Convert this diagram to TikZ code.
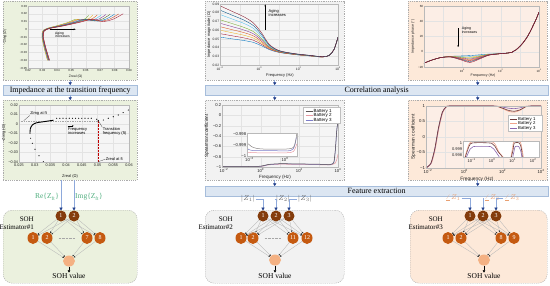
\documentclass[tikz,border=0pt]{standalone}
\usepackage{fontspec}
\setmainfont{Liberation Serif}
\newfontfamily\plotsans{Liberation Sans}
\usetikzlibrary{arrows.meta,shapes.geometric,positioning}

\definecolor{pgreen}{HTML}{EBF1DE}
\definecolor{pgray}{HTML}{F2F2F2}
\definecolor{ppeach}{HTML}{FDE9D9}
\definecolor{bgone}{HTML}{F5F5F5}
\definecolor{bgthree}{HTML}{FCEEE6}
\definecolor{banfill}{HTML}{DCE6F2}
\definecolor{banline}{HTML}{A6BDDB}
\definecolor{feedline}{HTML}{8EA9DB}
\definecolor{tipblue}{HTML}{1F3C88}
\definecolor{nbrown}{HTML}{843C0C}
\definecolor{norange}{HTML}{C55A11}
\definecolor{npeach}{HTML}{F4B183}
\definecolor{lblgreen}{HTML}{4FAE7E}
\definecolor{lblorange}{HTML}{E9A072}
\definecolor{mblue}{HTML}{0072BD}
\definecolor{morange}{HTML}{D95319}
\definecolor{myellow}{HTML}{EDB120}
\definecolor{mpurple}{HTML}{7E2F8E}
\definecolor{mgreen}{HTML}{77AC30}
\definecolor{mcyan}{HTML}{4DBEEE}
\definecolor{mred}{HTML}{A2142F}
\definecolor{batone}{HTML}{5A5252}
\definecolor{battwo}{HTML}{E89AA2}
\definecolor{batthree}{HTML}{7D7DC8}
\definecolor{phone}{HTML}{6E3A3A}
\definecolor{phtwo}{HTML}{F0A48C}
\definecolor{phthree}{HTML}{8A66AE}

\newcommand{\axsz}{3}
\newcommand{\axtsz}{3.4}
\newcommand{\axfont}{\plotsans\fontsize{\axsz}{\axsz}\selectfont}
\newcommand{\axtfont}{\plotsans\fontsize{\axtsz}{\axtsz}\selectfont}
\newcommand{\dec}[1]{10\textsuperscript{#1}}

\tikzset{
  panel/.style={draw=gray!65, dash pattern=on 1.2pt off 1pt, line width=0.4pt,
    fill=#1, inner sep=0pt, anchor=north west},
  estbox/.style={panel=#1, rounded corners=9pt},
  banner/.style={draw=banline, fill=banfill, line width=0.4pt, inner sep=0pt,
    anchor=north west, minimum height=10pt, font=\fontsize{8}{9}\selectfont},
  feed/.style={draw=feedline, line width=0.5pt,
    -{Triangle[width=3.2pt,length=2.6pt,color=tipblue]}},
  innode/.style={circle, fill=nbrown, text=white, minimum size=11pt,
    inner sep=0pt, font=\fontsize{6}{6}\selectfont},
  hidnode/.style={ellipse, fill=norange, text=white, minimum width=11pt,
    minimum height=12pt, inner sep=0pt, font=\fontsize{6}{6}\selectfont},
  outnode/.style={ellipse, fill=npeach, minimum width=12pt, minimum height=11pt,
    inner sep=0pt},
  wire/.style={draw=gray!55, line width=0.35pt,
    -{Triangle[width=1.6pt,length=1.3pt,color=gray!30!black]}},
  inlbl/.style={font=\fontsize{7.5}{8}\selectfont, inner sep=1pt},
  estlbl/.style={font=\fontsize{7}{8}\selectfont, align=right, anchor=east,
    inner sep=0pt},
  sohval/.style={font=\fontsize{7.5}{8}\selectfont, inner sep=0.5pt},
  gridline/.style={draw=gray!22, line width=0.2pt},
  axframe/.style={draw=gray!55, line width=0.3pt},
  tk/.style={font=\axfont, inner sep=0.7pt, text=gray!25!black},
  xtk/.style={tk, anchor=north, yshift=-0.8pt},
  axt/.style={font=\axtfont, inner sep=0pt, text=gray!25!black},
  note/.style={font=\axtfont, inner sep=0.3pt, align=left, text=black},
  curve/.style={line width=0.35pt},
  leader/.style={draw=gray!45!black, line width=0.25pt},
}

\begin{document}
\begin{tikzpicture}[x=1pt, y=-1pt]
\useasboundingbox (0,0) rectangle (550,285);

% panels and banners
\node[panel=pgreen, minimum width=134pt, minimum height=79pt] (nyq) at (3,1) {};
\node[panel=pgreen, minimum width=134pt, minimum height=80pt] (nyqft) at (3,100) {};
\node[panel=pgray, minimum width=139pt, minimum height=79pt] (mag) at (205,1) {};
\node[panel=pgray, minimum width=139pt, minimum height=80pt] (rhomag) at (205,100) {};
\node[panel=ppeach, minimum width=139pt, minimum height=79pt] (phs) at (408,1) {};
\node[panel=ppeach, minimum width=139pt, minimum height=80pt] (rhophs) at (408,100) {};
\node[estbox=pgreen, minimum width=134pt, minimum height=73pt] (est1) at (3,210) {};
\node[estbox=pgray, minimum width=139pt, minimum height=73pt] (est2) at (205,210) {};
\node[estbox=ppeach, minimum width=137pt, minimum height=73pt] (est3) at (410,210) {};

\node[banner, minimum width=134pt] (banft) at (3,85) {Impedance at the transition frequency};
\node[banner, minimum width=343pt] (bancor) at (205,85) {Correlation analysis};
\node[banner, minimum width=343pt] (banfe) at (205,186) {Feature extraction};

\draw[feed] (nyq.south) -- (banft.north);
\draw[feed] (banft.south) -- (nyqft.north);
\draw[feed] (mag.south) -- (mag.south |- bancor.north);
\draw[feed] (mag.south |- bancor.south) -- (rhomag.north);
\draw[feed] (phs.south) -- (phs.south |- bancor.north);
\draw[feed] (phs.south |- bancor.south) -- (rhophs.north);
\draw[feed] (rhomag.south) -- (rhomag.south |- banfe.north);
\draw[feed] (rhophs.south) -- (rhophs.south |- banfe.north);

% Nyquist plot, all cycles
\begin{scope}[shift={(28,68)}, x=14.43pt, y=7.75pt]
  \renewcommand{\axsz}{2.9}\renewcommand{\axtsz}{3.4}
  \fill[bgone] (0,0) rectangle (7,8);
  \foreach \i in {1,...,6} \draw[gridline] (\i,0) -- (\i,8);
  \foreach \j in {1,...,7} \draw[gridline] (0,\j) -- (7,\j);
  \foreach \d/\c in {0/mgreen,0.12/myellow,0.25/morange,0.37/mcyan,0.5/mpurple,
      0.62/mgreen!60!black,0.75/mblue,0.87/morange!70!mred,1/mred}
    \draw[curve,\c] plot[smooth] coordinates {({1.35+0.15*\d},1.0) ({1.12+0.12*\d},2.6)
      ({0.97+0.1*\d},4.0) ({1.02+0.1*\d},4.75) ({1.3+0.2*\d},5.1) ({2.0+0.5*\d},5.45)
      ({2.8+0.8*\d},5.9) ({3.3+1.2*\d},6.3) ({3.7+1.5*\d},{6.2-0.2*\d})
      ({4.0+1.9*\d},{6.4-0.1*\d}) ({4.2+2.4*\d},{6.8+0.2*\d})};
  \draw[axframe] (0,0) rectangle (7,8);
  \foreach \i/\l in {0/0.02,1/0.03,2/0.04,3/0.05,4/0.06,5/0.07,6/0.08,7/0.09}
    \node[xtk] at (\i,0) {\l};
  \foreach \j/\l in {0/−0.05,1/−0.04,2/−0.03,3/−0.02,4/−0.01,5/0,6/0.01,7/0.02,8/0.03}
    \node[tk, left] at (0,\j) {\l};
  \node[axt] at (3.3,-1.05) {Zreal (Ω)};
  \node[axt, rotate=90] at (-1.6,4) {−Zimg (Ω)};
  \draw[-{Stealth[length=2pt,width=1.6pt]}, line width=0.3pt] (1.5,5.0) -- (3.3,5.0);
  \node[note, anchor=north west] at (1.85,4.75) {Aging\\increases};
\end{scope}

% Nyquist plot with transition frequency
\begin{scope}[shift={(19,162)}, x=15.71pt, y=9.5pt]
  \renewcommand{\axsz}{3.8}\renewcommand{\axtsz}{4}
  \fill[bgone] (0,0) rectangle (7,6);
  \foreach \i in {1,...,6} \draw[gridline] (\i,0) -- (\i,6);
  \foreach \j in {1,...,5} \draw[gridline] (0,\j) -- (7,\j);
  \draw[gray!70, dash pattern=on 1pt off 0.7pt, line width=0.3pt] (0,4.35) -- (5.05,4.35);
  \draw[red!75!black, densely dotted, line width=0.45pt] (5.05,4.35) -- (5.05,0);
  \foreach \p in {(1.55,0.03),(1.27,0.66),(1.02,1.34),(0.85,1.97),(0.74,2.5),
      (4.95,4.5),(5.37,4.42),(5.68,4.6),(6.0,4.77),(6.32,4.95),(6.63,5.2),(6.96,5.47)}
    \fill \p circle (0.6pt);
  \draw[line width=0.9pt] plot[smooth] coordinates {(0.7,2.95) (0.72,3.5) (0.85,3.9)
    (1.1,4.12) (1.6,4.25) (2.2,4.4)};
  \foreach \u in {2.4,2.6,...,4.8} \fill (\u,4.6) circle (0.6pt);
  \fill (5.05,4.35) circle (0.7pt);
  \draw[axframe] (0,0) rectangle (7,6);
  \foreach \i/\l in {0/0.025,1/0.03,2/0.035,3/0.04,4/0.045,5/0.05,6/0.055,7/0.06}
    \node[xtk] at (\i,0) {\l};
  \foreach \j/\l in {0/−0.04,1/−0.03,2/−0.02,3/−0.01,4/0,5/0.01,6/0.02}
    \node[tk, left] at (0,\j) {\l};
  \node[axt] at (3.25,-1.5) {Zreal (Ω)};
  \node[axt, rotate=90] at (-0.97,3) {−Zimg (Ω)};
  \node[note] (zi) at (1.25,5.15) {Zimg at ft};
  \draw[leader] (zi.south west) -- (0.3,4.35);
  \node[note, anchor=west] (tf) at (5.3,3.2) {Transition\\frequency (ft)};
  \draw[leader] (5.05,4.35) -- (tf.north west);
  \node[note, anchor=west] (fi) at (3.1,3.2) {Frequency\\increases};
  \draw[-{Stealth[length=1.6pt,width=1.4pt]}, line width=0.25pt]
    ([yshift=1.8pt]fi.north west) -- ++(6pt,0);
  \node[note, anchor=west] (zr) at (5.5,0.3) {Zreal at ft};
  \draw[leader] (zr.west) -- (5.05,0.03);
\end{scope}

% impedance magnitude
\begin{scope}[shift={(220,65)}, x=19.67pt, y=8.71pt]
  \renewcommand{\axsz}{3.3}\renewcommand{\axtsz}{4}
  \fill[bgone] (0,0) rectangle (6,7);
  \foreach \i in {1,...,5} \draw[gridline] (\i,0) -- (\i,7);
  \foreach \j in {1,...,6} \draw[gridline] (0,\j) -- (6,\j);
  \foreach \a/\c in {1.6/mblue,2.0/mred,2.4/myellow,2.8/morange,3.2/mpurple,
      3.6/mgreen,4.2/mcyan,4.7/mblue!70!black,5.2/mred!80!black}
    \draw[curve,\c] plot[smooth] coordinates {(0,{1.6+\a}) (0.6,{1.6+0.88*\a})
      (1.2,{1.6+0.76*\a}) (1.7,{1.6+0.62*\a}) (2.1,{1.55+0.42*\a}) (2.5,{1.5+0.17*\a})
      (3.0,{1.35+0.06*\a}) (3.8,{1.15+0.03*\a}) (4.6,{1.0+0.02*\a}) (5.2,{0.9+0.01*\a})
      (5.55,1.1) (5.8,1.8) (6,3.2)};
  \draw[axframe] (0,0) rectangle (6,7);
  \foreach \i/\l in {0/−2,2/0,4/2,6/4} \node[xtk] at (\i,0) {\dec{\l}};
  \foreach \j/\l in {0/0.02,1/0.03,2/0.04,3/0.05,4/0.06,5/0.07,6/0.08,7/0.09}
    \node[tk, left] at (0,\j) {\l};
  \node[axt] at (3.05,-1.25) {Frequency (Hz)};
  \node[axt, rotate=90] at (-0.55,3.5) {Impedance magnitude (Ω)};
  \draw[-{Stealth[length=2pt,width=1.6pt]}, line width=0.3pt] (2.3,4.0) -- (2.3,6.95);
  \node[note, anchor=north west] at (2.45,6.45) {Aging\\increases};
\end{scope}

% impedance phase
\begin{scope}[shift={(424,67)}, x=19.17pt, y=7.625pt]
  \renewcommand{\axsz}{3}\renewcommand{\axtsz}{3.6}
  \fill[bgthree] (0,0) rectangle (6,8);
  \foreach \i in {1,...,5} \draw[gridline] (\i,0) -- (\i,8);
  \foreach \j in {2,4,6} \draw[gridline] (0,\j) -- (6,\j);
  \foreach \d/\c in {0/mblue,1.2/mcyan,2.5/myellow,3.7/mgreen,5/mpurple,
      6.2/morange,7.5/mred!60!morange,8.7/mblue!60!black,10/mred}
    \draw[curve,\c] plot[smooth] coordinates {(0,0.5) (0.4,0.9) (0.9,1.25)
      (1.4,{1.4-0.01*\d}) (1.9,{1.45-0.05*\d}) (2.4,{1.5-0.09*\d})
      (2.9,{1.6-0.055*\d}) (3.4,{1.7-0.015*\d}) (4,1.75) (4.6,1.95) (5.0,2.7)
      (5.4,4.0) (5.8,6.0) (6,7.2)};
  \draw[axframe] (0,0) rectangle (6,8);
  \foreach \i/\l in {2/0,4/2,6/4} \node[xtk] at (\i,0) {\dec{\l}};
  \foreach \j/\l in {0/−20,2/0,4/20,6/40,8/60} \node[tk, left] at (0,\j) {\l};
  \node[axt] at (3.08,-1.15) {Frequency (Hz)};
  \node[axt, rotate=90] at (-0.58,4) {Impedance phase (°)};
  \draw[-{Stealth[length=2pt,width=1.6pt]}, line width=0.3pt] (1.78,5.1) -- (1.78,2.6);
  \node[note, anchor=north west] at (1.95,5.3) {Aging\\increases};
\end{scope}

% Spearman coefficient, magnitude
\begin{scope}[shift={(222,167)}, x=19.33pt, y=10.33pt]
  \renewcommand{\axsz}{4.2}\renewcommand{\axtsz}{4.6}
  \fill[bgone] (0,0) rectangle (6,6);
  \foreach \i in {1,...,5} \draw[gridline] (\i,0) -- (\i,6);
  \foreach \j in {1,...,5} \draw[gridline] (0,\j) -- (6,\j);
  \draw[curve, battwo, line width=0.5pt] plot[smooth, tension=0.3] coordinates {(0,0.0)
    (1,0.01) (2,0.04) (2.4,0.2) (3,0.27) (4,0.25) (5,0.22) (5.6,0.2) (5.85,0.35)
    (5.95,0.8) (6,1.25)};
  \draw[curve, batthree, line width=0.5pt] plot[smooth, tension=0.3] coordinates {(0,0.03)
    (1,0.03) (2,0.06) (2.4,0.22) (3,0.3) (4,0.28) (5,0.25) (5.6,0.22) (5.8,0.5)
    (5.88,2.0) (5.95,3.8) (6,4.3)};
  \draw[curve, batone, line width=0.5pt] plot[smooth, tension=0.3] coordinates {(0,0.05)
    (1,0.04) (2,0.08) (2.4,0.25) (3,0.32) (4,0.3) (5,0.27) (5.6,0.25) (5.78,0.4)
    (5.86,1.6) (5.93,3.4) (6,4.5)};
  \draw[axframe] (0,0) rectangle (6,6);
  \foreach \i/\l in {0/−2,2/0,4/2,6/4} \node[xtk, xshift={\i==0 ? 2pt : 0pt}] at (\i,0) {\dec{\l}};
  \foreach \j/\l in {0/−1,1/−0.8,2/−0.6,3/−0.4,4/−0.2,5/0,6/0.2}
    \node[tk, left] at (0,\j) {\l};
  \node[axt] at (2.74,-1.0) {Frequency (Hz)};
  \node[axt, rotate=90] at (-0.78,3) {Spearman coefficient};
\end{scope}
\begin{scope}[shift={(247,156)}, x=19pt, y=11pt]
  \renewcommand{\axsz}{4.2}
  \fill[white] (0,0) rectangle (2.63,2.09);
  \begin{scope}
    \clip (0,0) rectangle (2.63,2.09);
    \draw[curve, battwo, line width=0.5pt] plot[smooth] coordinates {(0,0.35) (0.4,0.3)
      (1.5,0.28) (2.3,0.32) (2.5,0.55) (2.62,1.1)};
    \draw[curve, batthree, line width=0.5pt] plot[smooth] coordinates {(0,0.7) (0.3,0.5)
      (1.5,0.48) (2.3,0.5) (2.5,0.9) (2.6,1.7)};
    \draw[curve, batone!70, line width=0.5pt] plot[smooth] coordinates {(0,1.2) (0.3,0.8)
      (0.7,0.65) (1.5,0.62) (2.2,0.65) (2.45,0.8) (2.55,1.3) (2.62,2.0)};
  \end{scope}
  \draw[axframe] (0,0) rectangle (2.63,2.09);
  \foreach \j/\l in {0/−1,1/−0.999,2/−0.998} \node[tk, left] at (0,\j) {\l};
  \foreach \i/\l in {0/−2,2/0} \node[xtk, xshift={\i==0 ? 2.5pt : 0pt}] at (\i,0) {\dec{\l}};
\end{scope}
\node[draw=gray!50, fill=white, line width=0.3pt, minimum width=37pt, minimum height=16pt,
  anchor=north west, inner sep=0pt] (leg5) at (303,107) {};
\foreach \k/\c in {1/batone,2/battwo,3/batthree} {
  \draw[\c, line width=0.7pt] (305.5,{106.5+4.5*\k}) -- (312.5,{106.5+4.5*\k});
  \node[font=\plotsans\fontsize{4.5}{4.5}\selectfont, inner sep=0pt, anchor=west]
    at (313.5,{106.5+4.5*\k}) {Battery \k};
}

% Spearman coefficient, phase
\begin{scope}[shift={(426,168)}, x=19.17pt, y=15.5pt]
  \renewcommand{\axsz}{4.3}\renewcommand{\axtsz}{4.8}
  \fill[bgthree] (0,0) rectangle (6,4);
  \foreach \i in {1,...,5} \draw[gridline] (\i,0) -- (\i,4);
  \foreach \j in {1,...,3} \draw[gridline] (0,\j) -- (6,\j);
  \draw[curve, phtwo, line width=0.6pt] plot[smooth, tension=0.4] coordinates {(0,0)
    (0.28,0.3) (0.48,1.2) (0.68,2.6) (0.88,3.6) (1.08,3.95) (1.3,4.0) (3.5,4.0)
    (3.9,3.88) (4.3,3.66) (4.6,3.6) (4.9,3.72) (5.2,3.95) (5.5,4.0) (6,4.0)};
  \draw[curve, phthree, line width=0.6pt] plot[smooth, tension=0.4] coordinates {(0,0)
    (0.26,0.3) (0.46,1.2) (0.66,2.6) (0.86,3.6) (1.06,3.95) (1.3,4.0) (3.5,4.0)
    (3.9,3.95) (4.3,3.86) (4.6,3.83) (4.9,3.88) (5.2,3.98) (5.5,4.0) (6,4.0)};
  \draw[curve, phone, line width=0.6pt] plot[smooth, tension=0.4] coordinates {(0,0)
    (0.25,0.3) (0.45,1.2) (0.65,2.6) (0.85,3.6) (1.05,3.95) (1.3,4.0) (3.5,4.0)
    (3.9,3.9) (4.3,3.72) (4.6,3.66) (4.9,3.75) (5.2,3.95) (5.5,4.0) (6,4.0)};
  \draw[axframe] (0,0) rectangle (6,4);
  \foreach \i/\l in {0/−2,2/0,4/2,6/4} \node[xtk, xshift={\i==0 ? 2pt : 0pt}] at (\i,0) {\dec{\l}};
  \foreach \j/\l in {0/−1,1/−0.5,2/0,3/0.5,4/1} \node[tk, left] at (0,\j) {\l};
  \node[axt] at (2.66,-0.7) {Frequency (Hz)};
  \node[axt, rotate=90] at (-0.66,2) {Spearman coefficient};
\end{scope}
\begin{scope}[shift={(463,155)}, x=20.5pt, y=6pt]
  \renewcommand{\axsz}{4}
  \fill[white] (0,-0.33) rectangle (3.7,2.33);
  \begin{scope}
    \clip (0,-0.33) rectangle (3.7,2.33);
    \draw[curve, phtwo, line width=0.6pt] plot[smooth] coordinates {(0.08,-0.5) (0.28,1.7)
      (0.45,2.2) (1.0,2.25) (1.45,2.15) (1.6,1.6) (1.75,0.5) (2.0,-0.5)};
    \draw[curve, phtwo, line width=0.6pt] plot[smooth] coordinates {(2.33,-0.5) (2.42,1.2)
      (2.48,2.2) (2.78,2.2) (2.88,1.0) (2.95,-0.5)};
    \draw[curve, phone, line width=0.6pt] plot[smooth] coordinates {(0.1,-0.5) (0.3,1.5)
      (0.45,2.0) (1.0,2.05) (1.4,1.95) (1.55,1.5) (1.7,0.6) (1.85,0.0) (1.95,-0.5)};
    \draw[curve, phone, line width=0.6pt] plot[smooth] coordinates {(2.35,-0.5) (2.45,1.0)
      (2.5,2.0) (2.75,2.0) (2.85,1.0) (2.9,-0.5)};
    \draw[curve, phthree, line width=0.6pt] plot[smooth] coordinates {(0.15,-0.5) (0.35,1.0)
      (0.5,1.4) (1.0,1.45) (1.35,1.4) (1.5,1.0) (1.65,0.3) (1.8,-0.5)};
    \draw[curve, phthree, line width=0.6pt] plot[smooth] coordinates {(2.42,-0.5) (2.5,0.8)
      (2.55,1.4) (2.72,1.4) (2.82,0.6) (2.88,-0.5)};
  \end{scope}
  \draw[axframe] (0,-0.33) rectangle (3.7,2.33);
  \foreach \j/\l in {0/0.998,1/0.999,2/1} \node[tk, left] at (0,\j) {\l};
  \foreach \i/\l in {0.42/−1,1.42/0,2.42/1,3.42/2} \node[xtk] at (\i,-0.33) {\dec{\l}};
\end{scope}
\node[draw=gray!50, fill=white, line width=0.3pt, minimum width=34pt, minimum height=16pt,
  anchor=north west, inner sep=0pt] (leg6) at (508,115) {};
\foreach \k/\c in {1/phone,2/phtwo,3/phthree} {
  \draw[\c, line width=0.7pt] (510,{114.5+4.5*\k}) -- (517,{114.5+4.5*\k});
  \node[font=\plotsans\fontsize{4.3}{4.3}\selectfont, inner sep=0pt, anchor=west]
    at (518,{114.5+4.5*\k}) {Battery \k};
}

% SOH estimator #1
\node[innode] (a11) at (61,216) {1};
\node[innode] (a12) at (74,216) {2};
\node[hidnode] (h11) at (33,238) {1};
\node[hidnode] (h12) at (47,238) {2};
\node[hidnode] (h13) at (87,238) {7};
\node[hidnode] (h14) at (100,238) {8};
\node[outnode] (o1) at (69,261) {};
\node[sohval] (v1) at (69,276) {SOH value};
\node[estlbl] (t1) at (34,223) {SOH\\Estimator\#1};
\node[inlbl, text=lblgreen] (re1) at (47,197) {Re\{Z\textsubscript{ft}\}};
\node[inlbl, text=lblgreen] (im1) at (89,197) {Img\{Z\textsubscript{ft}\}};
\draw[feed] (nyqft.south -| a11) -- (a11);
\draw[feed] (nyqft.south -| a12) -- (a12);
\foreach \a in {a11,a12}
  \foreach \h in {h11,h12,h13,h14} \draw[wire] (\a) -- (\h);
\foreach \h in {h11,h12,h13,h14} \draw[wire] (\h) -- (o1);
\draw[gray!70, densely dotted, line width=0.4pt, shorten <=6pt, shorten >=6pt] (h12) -- (h13);
\draw[black, line width=0.4pt, -{Triangle[width=2.6pt,length=2.4pt]}] (o1) -- (v1);

% SOH estimator #2
\node[innode] (a21) at (263,216) {1};
\node[innode] (a22) at (276,216) {2};
\node[innode] (a23) at (289,216) {3};
\node[hidnode] (h21) at (241,238) {1};
\node[hidnode] (h22) at (253,238) {2};
\node[hidnode] (h23) at (293,238) {11};
\node[hidnode] (h24) at (307,238) {12};
\node[outnode] (o2) at (275,260) {};
\node[sohval] (v2) at (275,276) {SOH value};
\node[estlbl] (t2) at (233,223) {SOH\\Estimator\#2};
\node[inlbl, text=gray!80!black] (z1) at (248,199) {$|Z_1|$};
\node[inlbl, text=gray!80!black] (z2) at (283,199) {$|Z_2|$};
\node[inlbl, text=gray!80!black] (z3) at (305,199) {$|Z_3|$};
\draw[feed] (z1.east) -| (a21.north);
\draw[feed] (z2.west) -| (a22.north);
\draw[feed] (z3.west) -| (a23.north);
\foreach \a in {a21,a22,a23}
  \foreach \h in {h21,h22,h23,h24} \draw[wire] (\a) -- (\h);
\foreach \h in {h21,h22,h23,h24} \draw[wire] (\h) -- (o2);
\draw[gray!70, densely dotted, line width=0.4pt, shorten <=6pt, shorten >=6pt] (h22) -- (h23);
\draw[black, line width=0.4pt, -{Triangle[width=2.6pt,length=2.4pt]}] (o2) -- (v2);

% SOH estimator #3
\node[innode] (a31) at (470,216) {1};
\node[innode] (a32) at (483,216) {2};
\node[innode] (a33) at (496,216) {3};
\node[hidnode] (h31) at (448,238) {1};
\node[hidnode] (h32) at (461,238) {2};
\node[hidnode] (h33) at (501,238) {8};
\node[hidnode] (h34) at (514,238) {9};
\node[outnode] (o3) at (484,260) {};
\node[sohval] (v3) at (484,276) {SOH value};
\node[estlbl] (t3) at (443,223) {SOH\\Estimator\#3};
\node[inlbl, text=lblorange] (p1) at (453,198) {$\angle Z_1$};
\node[inlbl, text=lblorange] (p2) at (492,198) {$\angle Z_2$};
\node[inlbl, text=lblorange] (p3) at (512,198) {$\angle Z_3$};
\draw[feed] (p1.east) -| (a31.north);
\draw[feed] (p2.west) -| (a32.north);
\draw[feed] (p3.west) -| (a33.north);
\foreach \a in {a31,a32,a33}
  \foreach \h in {h31,h32,h33,h34} \draw[wire] (\a) -- (\h);
\foreach \h in {h31,h32,h33,h34} \draw[wire] (\h) -- (o3);
\draw[black, line width=0.4pt, -{Triangle[width=2.6pt,length=2.4pt]}] (o3) -- (v3);
\end{tikzpicture}
\end{document}
